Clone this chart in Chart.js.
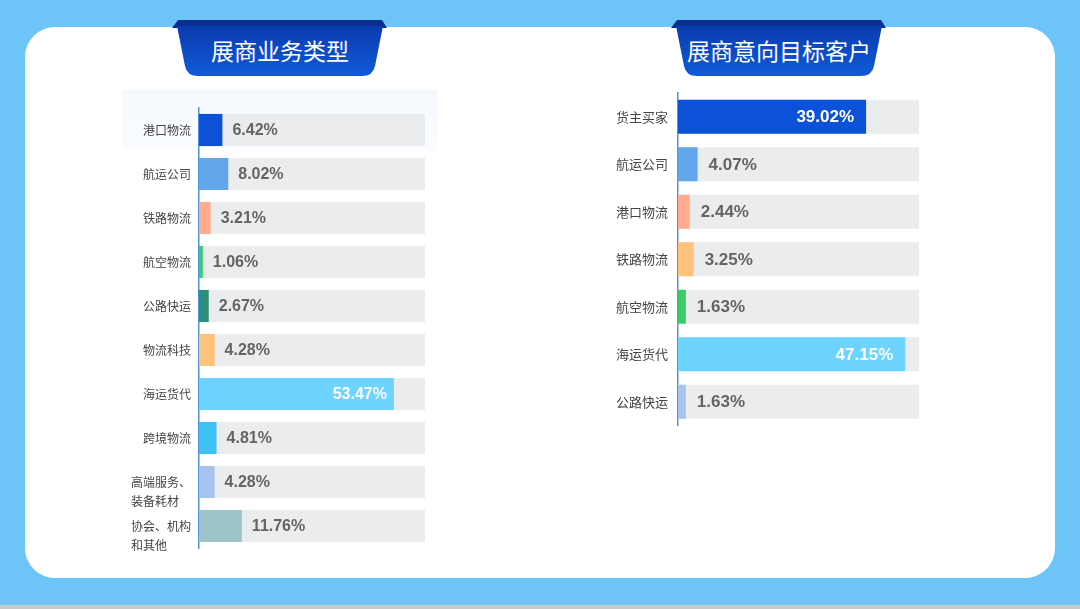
<!DOCTYPE html>
<html>
<head>
<meta charset="utf-8">
<script src="https://cdn.jsdelivr.net/npm/chart.js@4.4.1/dist/chart.umd.min.js"></script>
<style>
	html, body { margin: 0; padding: 0; }
	body { width: 1080px; height: 609px; background: #6cc4f7; position: relative; overflow: hidden; font-family: 'Noto Sans CJK SC', sans-serif; }
	#strip { position: absolute; left: 0; top: 605px; width: 1080px; height: 4px; background: #c9c9c9; }
	#card { position: absolute; left: 25px; top: 27px; width: 1030px; height: 551px; background: #fff; border-radius: 30px; }
	#glow { position: absolute; left: 122px; top: 90px; width: 315px; height: 60px; background: linear-gradient(180deg, #f5f9fe 0%, #fafcff 100%); }
	.tab { position: absolute; top: 20px; height: 58px; }
	.tab svg { position: absolute; left: 0; top: 0; }
	.tab div { position: absolute; left: 0; top: 15px; width: 100%; text-align: center; color: #fff; font-size: 23px; line-height: 30px; }
	canvas { position: absolute; }
</style>
</head>
<body>
<div id="strip"></div>
<div id="card"></div>
<div id="glow"></div>

<div class="tab" style="left:172px;width:216px;">
	<svg width="216" height="58">
		<defs>
			<linearGradient id="tg1" x1="0" y1="0" x2="0" y2="1">
				<stop offset="0" stop-color="#0a3cae"/>
				<stop offset="1" stop-color="#105ad9"/>
			</linearGradient>
		</defs>
		<path d="M0,8 L6,0 L210,0 L215,8 Z" fill="#0a2f90"/>
		<path d="M5,6 L211,6 L203,46 Q201,56 190,56 L26,56 Q15,56 13,46 Z" fill="url(#tg1)"/>
	</svg>
	<div>展商业务类型</div>
</div>

<div class="tab" style="left:671px;width:216px;">
	<svg width="216" height="58">
		<defs>
			<linearGradient id="tg2" x1="0" y1="0" x2="0" y2="1">
				<stop offset="0" stop-color="#0a3cae"/>
				<stop offset="1" stop-color="#105ad9"/>
			</linearGradient>
		</defs>
		<path d="M0,8 L6,0 L210,0 L215,8 Z" fill="#0a2f90"/>
		<path d="M5,6 L211,6 L203,46 Q201,56 190,56 L26,56 Q15,56 13,46 Z" fill="url(#tg2)"/>
	</svg>
	<div>展商意向目标客户</div>
</div>

<canvas id="leftChart" style="left:100px;top:100px;width:340px;height:455px;" width="340" height="455"></canvas>
<canvas id="rightChart" style="left:580px;top:85px;width:355px;height:350px;" width="355" height="350"></canvas>

<script>
// left chart data: 展商业务类型
const leftLabels = ['港口物流', '航运公司', '铁路物流', '航空物流', '公路快运', '物流科技', '海运货代', '跨境物流', ['高端服务、', '装备耗材'], ['协会、机构', '和其他']];
const leftValues = [6.42, 8.02, 3.21, 1.06, 2.67, 4.28, 53.47, 4.81, 4.28, 11.76];
const leftColors = ['#0b52d9', '#62a6ec', '#ffab90', '#3dcb70', '#2b8f78', '#ffc27a', '#6dd3ff', '#3ec0f2', '#a8c4ee', '#9ec5c9'];
const leftMax = 62;

// right chart data: 展商意向目标客户
const rightLabels = ['货主买家', '航运公司', '港口物流', '铁路物流', '航空物流', '海运货代', '公路快运'];
const rightValues = [39.02, 4.07, 2.44, 3.25, 1.63, 47.15, 1.63];
const rightColors = ['#0b52d9', '#62a6ec', '#ffab90', '#ffc27a', '#3dcb70', '#6dd3ff', '#a8c4ee'];
const rightMax = 50;

const trackColor = '#ebecee';

// draws value text and the category labels
const labelPlugin = {
	id: 'barLabels',
	afterDatasetsDraw(chart, args, opts) {
		const ctx = chart.ctx;
		const meta = chart.getDatasetMeta(1);
		const values = chart.data.datasets[1].data;
		ctx.save();
		ctx.font = 'bold ' + opts.valueSize + 'px "Liberation Sans", Arial, sans-serif';
		ctx.textBaseline = 'middle';
		meta.data.forEach((bar, i) => {
			const txt = values[i].toFixed(2) + '%';
			if (values[i] > 30) {
				ctx.fillStyle = '#ffffff';
				ctx.textAlign = 'right';
				ctx.fillText(txt, bar.x - opts.inside, bar.y + 1);
			} else {
				ctx.fillStyle = '#646464';
				ctx.textAlign = 'left';
				ctx.fillText(txt, bar.x + opts.outside, bar.y + 1);
			}
		});

		// category labels
		const yScale = chart.scales.y;
		const axisX = chart.chartArea.left - opts.tickPad;
		ctx.font = opts.tickSize + 'px "Noto Sans CJK SC", sans-serif';
		ctx.fillStyle = '#454545';
		chart.data.labels.forEach((lab, i) => {
			const y = yScale.getPixelForValue(i);
			if (Array.isArray(lab)) {
				const w = Math.max(...lab.map(s => ctx.measureText(s).width));
				ctx.textAlign = 'left';
				lab.forEach((line, j) => ctx.fillText(line, axisX - w, y + j * 19));
			} else {
				ctx.textAlign = 'right';
				ctx.fillText(lab, axisX, y);
			}
		});
		ctx.restore();
	}
};

function makeChart(id, labels, values, colors, max, cfg) {
	return new Chart(document.getElementById(id), {
		type: 'bar',
		data: {
			labels: labels,
			datasets: [
				{
					data: labels.map(() => max),
					backgroundColor: trackColor,
					grouped: false,
					order: 2,
				},
				{
					data: values,
					backgroundColor: colors,
					grouped: false,
					order: 1,
				},
			],
		},
		options: {
			indexAxis: 'y',
			responsive: false,
			animation: false,
			devicePixelRatio: 1,
			categoryPercentage: cfg.cat,
			barPercentage: 1,
			layout: { padding: cfg.padding },
			scales: {
				x: { display: false, min: 0, max: max },
				y: {
					grid: { display: false },
					ticks: { display: false },
					border: { display: true, color: '#4f93e3', width: 1.5 },
					afterFit: (scale) => { scale.width = cfg.axisWidth; },
				},
			},
			plugins: {
				legend: { display: false },
				tooltip: { enabled: false },
				barLabels: cfg.labels,
			},
		},
		plugins: [labelPlugin],
	});
}

const leftChart = makeChart('leftChart', leftLabels, leftValues, leftColors, leftMax, {
	cat: 0.73,
	axisWidth: 99,
	padding: { top: 8, bottom: 7, left: 0, right: 15 },
	labels: { valueSize: 16, inside: 7, outside: 10, tickSize: 12, tickPad: 8 },
});

const rightChart = makeChart('rightChart', rightLabels, rightValues, rightColors, rightMax, {
	cat: 0.72,
	axisWidth: 98,
	padding: { top: 8, bottom: 9.5, left: 0, right: 16 },
	labels: { valueSize: 17, inside: 12, outside: 11, tickSize: 13, tickPad: 10 },
});
</script>
</body>
</html>
